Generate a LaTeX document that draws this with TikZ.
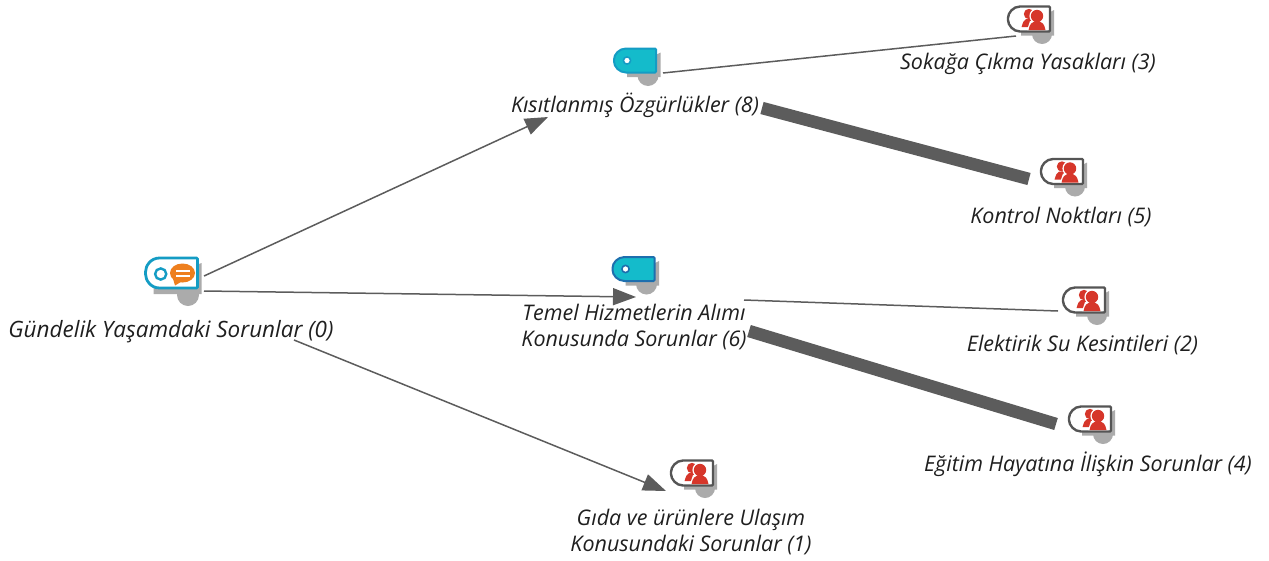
\documentclass[tikz,border=0pt]{standalone}
\usepackage{fontspec}
\setmainfont{Open Sans}
\usetikzlibrary{arrows.meta}
\definecolor{linkgray}{HTML}{5C5C5C}
\definecolor{shadowgray}{HTML}{ABABAB}
\definecolor{teal1}{HTML}{14BBCB}
\definecolor{teal2}{HTML}{149CC4}
\definecolor{blue2}{HTML}{1E6FAE}
\definecolor{orange1}{HTML}{EE7F1E}
\definecolor{red1}{HTML}{D6362A}
\definecolor{frame1}{HTML}{555555}
\tikzset{
  x=1pt,y=-1pt,
  lab/.style={font=\fontsize{21.5}{26.5}\selectfont\itshape,text=black!88,align=center,inner sep=0pt},
  widelab/.style={lab,font=\fontsize{22.5}{26.5}\selectfont\itshape},
  iconbox/.style={inner sep=0pt,minimum width=44pt,minimum height=27pt},
  thin link/.style={draw=linkgray,line width=1.5pt},
  arrow link/.style={thin link,-{Triangle[length=23pt,width=17pt]}},
  thick link/.style={draw=linkgray,line width=12.5pt},
  shadowshape/.style={fill=shadowgray,draw=none},
}
\newcommand{\personicon}[3]{%
  \begin{scope}[shift={(#2,#3)}]
    \fill[shadowshape] (13,15) circle[radius=10pt];
    \fill[shadowshape] (25,-9) -- (25,16.5) -- (-8,16.5) -- (-8,9) -- cycle;
    \node[iconbox] (#1) at (0,0) {};
    \path[fill=white,draw=frame1,line width=2.4pt,rounded corners=1pt] (21,-12.5) -- (21,12.5) -- (-8,12.5) .. controls (-16,12.5) and (-21,6) .. (-21,0) .. controls (-21,-6) and (-16,-12.5) .. (-8,-12.5) -- cycle;
    \fill[red1] (0,-5) circle[radius=5.2pt];
    \fill[red1] (-7.5,8) .. controls (-6,3) and (-5,1) .. (-3,0) -- (2,0) -- (1,8) -- cycle;
    \fill[white] (8,-3) circle[radius=7.6pt];
    \fill[white] (-2,11) -- (1,2) -- (15,2) -- (18,11) -- cycle;
    \fill[red1] (8,-3) circle[radius=6.2pt];
    \fill[red1] (-0.5,11.2) .. controls (0.5,5) and (3,3) .. (6,2) -- (10,2) .. controls (13,3) and (15.5,5) .. (16.5,11.2) -- cycle;
  \end{scope}}
\newcommand{\codeicon}[4]{%
  \begin{scope}[shift={(#2,#3)}]
    \fill[shadowshape] (13,15) circle[radius=10.5pt];
    \fill[shadowshape] (25.5,-8) -- (25.5,16.5) -- (-8,16.5) -- (-8,9) -- cycle;
    \node[iconbox] (#1) at (0,0) {};
    \path[fill=teal1,draw=#4,line width=2pt,rounded corners=1pt] (21,-12) -- (21,12) -- (-8,12) .. controls (-16,12) and (-21,6) .. (-21,0) .. controls (-21,-6) and (-16,-12) .. (-8,-12) -- cycle;
    \fill[white,draw=#4,line width=1.6pt] (-8,0) circle[radius=3.6pt];
  \end{scope}}
\begin{document}
\begin{tikzpicture}
\useasboundingbox (0,0) rectangle (1269,560);
% root icon
\begin{scope}[shift={(171.5,273)}]
  \fill[shadowshape] (16.5,22) circle[radius=11pt];
  \fill[shadowshape] (30,-10) -- (30,21) -- (-18,21) -- (-18,10) -- cycle;
  \node[inner sep=0pt,minimum width=58pt,minimum height=30pt] (i0) at (0,0) {};
  \path[fill=white,draw=teal2,line width=2.8pt,rounded corners=1pt] (26,-15) -- (26,15) -- (-11,15) .. controls (-21,15) and (-26,7) .. (-26,0) .. controls (-26,-7) and (-21,-15) .. (-11,-15) -- cycle;
  \draw[teal2,line width=2.4pt] (-10.8,1) circle[radius=5.6pt];
  \fill[orange1] (11,0) ellipse[x radius=12.5pt,y radius=9.5pt];
  \fill[orange1] (1,4) -- (3.5,12.5) -- (11,8) -- cycle;
  \fill[white] (4,-3.4) rectangle (18,-1);
  \fill[white] (4,2) rectangle (18,4.4);
\end{scope}
\codeicon{i8}{635}{60.5}{teal2}
\codeicon{i6}{633.5}{269}{blue2}
\personicon{i3}{1029}{19}
\personicon{i5}{1062}{171.5}
\personicon{i2}{1084}{300}
\personicon{i4}{1090}{419}
\personicon{i1}{692}{473}
% labels
\node[widelab] (lab0) at (171,331.5) {Gündelik Yaşamdaki Sorunlar (0)};
\node[lab] (lab8) at (635,105.5) {Kısıtlanmış Özgürlükler (8)};
\node[lab] (lab6) at (634,327) {Temel Hizmetlerin Alımı\\Konusunda Sorunlar (6)};
\node[lab] (lab3) at (1028,63.5) {Sokağa Çıkma Yasakları (3)};
\node[lab] (lab5) at (1061,217) {Kontrol Noktları (5)};
\node[lab] (lab2) at (1082.5,345) {Elektirik Su Kesintileri (2)};
\node[lab] (lab4) at (1088,464) {Eğitim Hayatına İlişkin Sorunlar (4)};
\node[lab] (lab1) at (691,532) {Gıda ve ürünlere Ulaşım\\Konusundaki Sorunlar (1)};
% connectors
\draw[arrow link] ([shift={(32.5,3)}]i0.center) -- ([shift={(-87,11.5)}]lab8.center);
\draw[arrow link] ([shift={(32.5,18)}]i0.center) -- ([shift={(2.5,28)}]i6.center);
\draw[arrow link] ([shift={(123,8.5)}]lab0.center) -- ([shift={(-26,18)}]i1.center);
\draw[thin link] ([shift={(28,12.5)}]i8.center) -- ([shift={(-12,-27.5)}]lab3.center);
\draw[thick link] ([shift={(127,2.5)}]lab8.center) -- ([shift={(-33,7.5)}]i5.center);
\draw[thin link] ([shift={(110,-27)}]lab6.center) -- ([shift={(-26,11)}]i2.center);
\draw[thick link] ([shift={(115,4)}]lab6.center) -- ([shift={(-34,5)}]i4.center);
\end{tikzpicture}
\end{document}
